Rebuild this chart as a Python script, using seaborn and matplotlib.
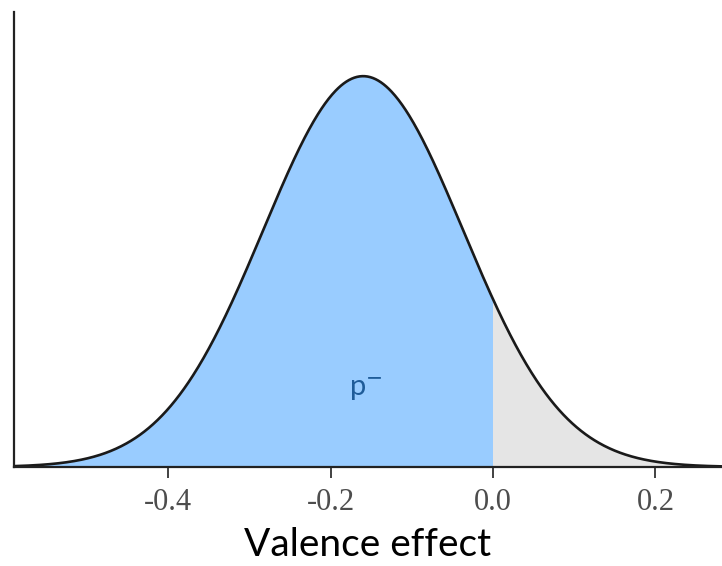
import numpy as np
import pandas as pd
import matplotlib
matplotlib.use("Agg")
import matplotlib.pyplot as plt
import seaborn as sns

# Posterior of the valence effect
post_mean = -0.160
post_sd = 0.123
threshold = 0.0
x_ticks = [-0.4, -0.2, 0.0, 0.2]
x_tick_labels = ["-0.4", "-0.2", "0.0", "0.2"]
x_label = "Valence effect"
area_label = "p$^{-}$"

sns.set_theme(style="ticks")
plt.rcParams["font.family"] = ["Lato", "DejaVu Sans"]
plt.rcParams["mathtext.fontset"] = "dejavusans"

xmin, xmax = -0.590, 0.282
grid = np.linspace(xmin, xmax, 800)
dens = np.exp(-0.5 * ((grid - post_mean) / post_sd) ** 2) / (post_sd * np.sqrt(2 * np.pi))
df = pd.DataFrame({"x": grid, "density": dens})

fig = plt.figure(figsize=(7.22, 5.66), dpi=100)
ax = fig.add_axes([14 / 722, 1 - 467 / 566, 1 - 14 / 722, (467 - 12) / 566])

neg = df["x"] <= threshold
ax.fill_between(df["x"], 0, df["density"], color="#E5E5E5", linewidth=0)
ax.fill_between(df["x"][neg], 0, df["density"][neg], color="#99CCFF", linewidth=0)
sns.lineplot(data=df, x="x", y="density", ax=ax, color="#1a1a1a", linewidth=1.9)

peak = dens.max()
ax.set_xlim(xmin, xmax)
ax.set_ylim(0, peak / 0.859)

ax.text(post_mean + 0.003, peak * 0.20, area_label, color="#1F5C99",
        fontsize=21, ha="center", va="center")

ax.set_xticks(x_ticks)
ax.set_xticklabels(x_tick_labels, family="Liberation Serif", fontsize=22, color="#4D4D4D")
ax.tick_params(axis="x", length=8, width=1.3, color="#333333", pad=7)
ax.set_yticks([])
ax.set_ylabel("")
ax.set_xlabel(x_label, fontsize=28, color="black", labelpad=7)

for side in ["top", "right"]:
    ax.spines[side].set_visible(False)
for side in ["left", "bottom"]:
    ax.spines[side].set_color("#222222")
    ax.spines[side].set_linewidth(1.6)

fig.savefig("out.png", dpi=100)
